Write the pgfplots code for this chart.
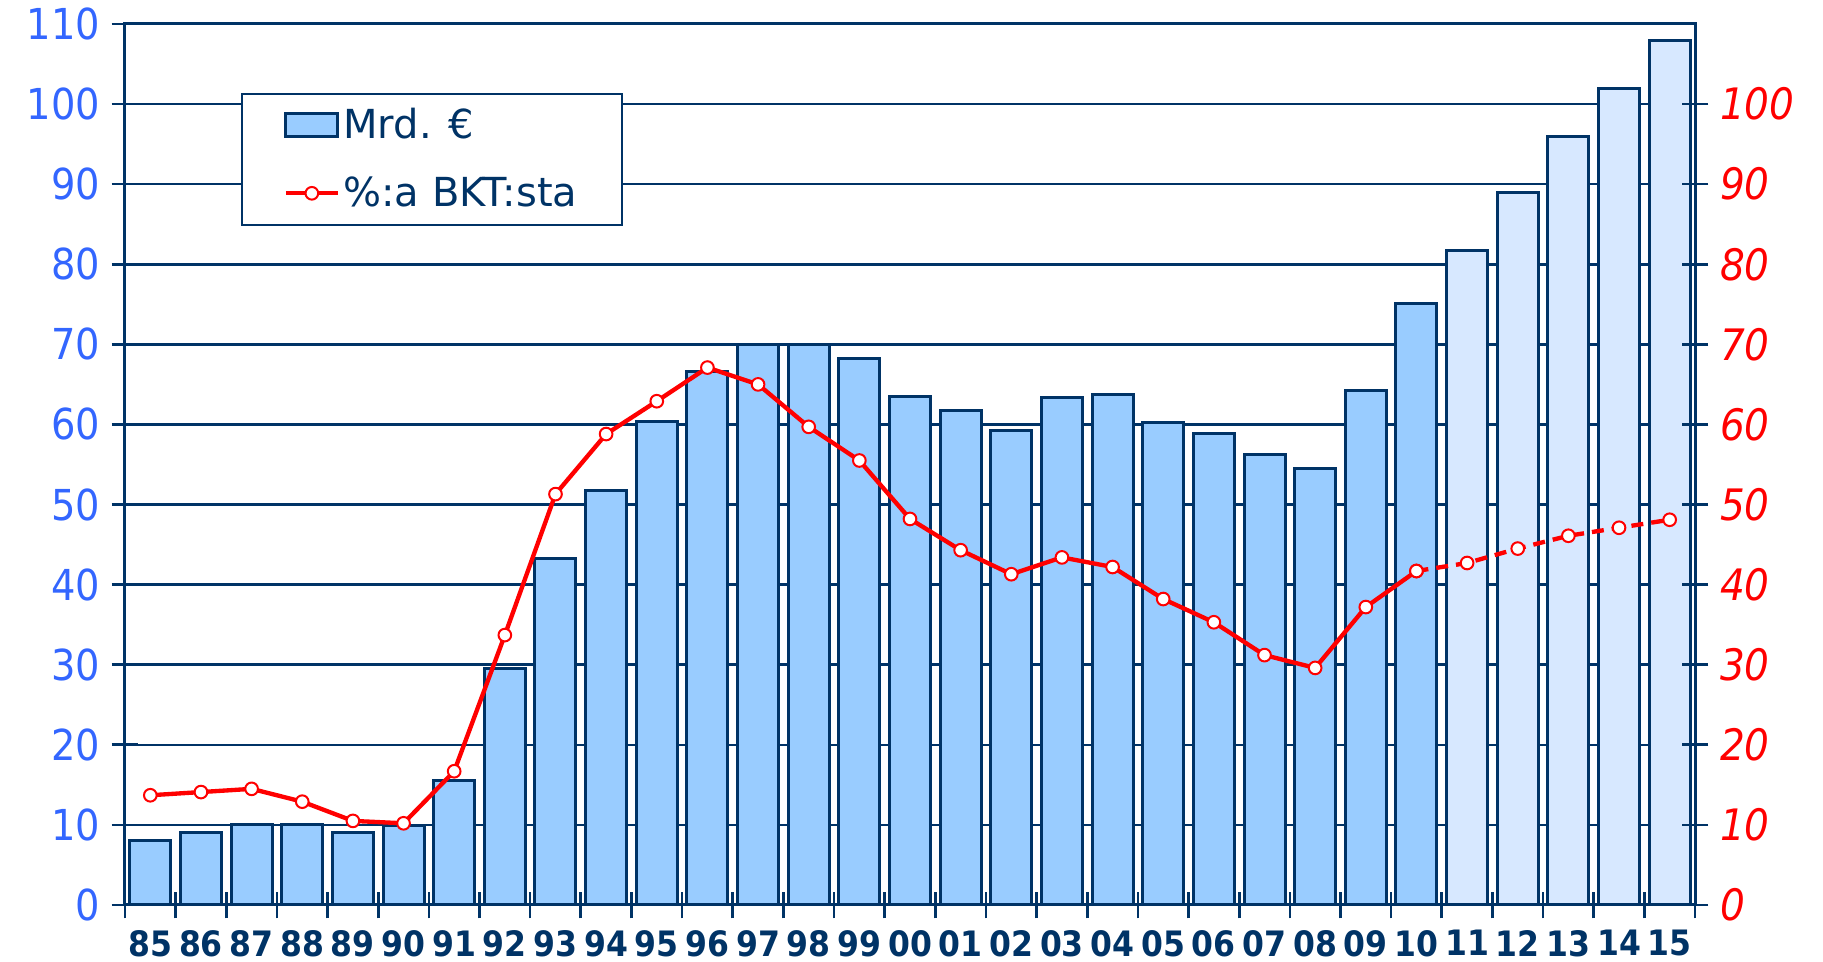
\documentclass[border=0pt]{standalone}
\usepackage{fontspec}
\setmainfont{DejaVu Sans}
\newfontfamily\condfont{DejaVu Sans Condensed}
\usepackage{pgfplots}
\pgfplotsset{compat=1.18}
\definecolor{navy}{HTML}{003366}
\definecolor{lblue}{HTML}{3366FF}
\definecolor{barblue}{HTML}{99CCFF}
\definecolor{barlight}{HTML}{D7E8FF}
\definecolor{lred}{HTML}{FF0000}
\pgfplotsset{
  barleg/.style={legend image code/.code={\draw[##1] (0pt,-3.4pt) rectangle (15.6pt,3.4pt);}},
  lineleg/.style={legend image code/.code={\draw[##1, mark repeat=2, mark phase=2] plot coordinates {(0pt,0pt) (7.8pt,0pt) (15.6pt,0pt)};}},
}
\begin{document}
\begin{tikzpicture}
\begin{axis}[
  name=ax, at={(0,0)}, anchor=south west,
  scale only axis, width=471pt, height=264.3pt,
  xmin=-0.5, xmax=30.5, ymin=0, ymax=110,
  axis line style={navy, line width=0.9pt},
  xtick={-0.5,0.5,...,30.5},
  x tick label as interval,
  xticklabels={85,86,87,88,89,90,91,92,93,94,95,96,97,98,99,00,01,02,03,04,05,06,07,08,09,10,11,12,13,14,15},
  xticklabel style={font=\condfont\bfseries\fontsize{10.5}{12}\selectfont, text=navy},
  ytick={0,10,...,110},
  yticklabels={0,10,20,30,40,50,60,70,80,90,100,110},
  yticklabel style={font=\condfont\fontsize{12.8}{14}\selectfont, text=lblue},
  xtick pos=bottom, ytick pos=left,
  tick align=center, major tick length=8pt,
  tick style={navy, line width=0.8pt},
  ymajorgrids, grid style={navy, line width=0.75pt},
  legend style={at={(0.0739,0.9217)}, anchor=north west, draw=navy, line width=0.6pt, fill=white,
    inner xsep=12.5pt, inner ysep=3pt, row sep=7.6pt,
    font=\fontsize{12}{14}\selectfont, text=navy,
    nodes={inner sep=1pt, text height=9.4pt, text depth=1.4pt}},
  legend cell align=left,
]
\addplot[ybar, bar width=0.81, bar shift=0pt, fill=barblue, draw=navy, line width=0.9pt, barleg]
  coordinates {(0,8.0) (1,9.0) (2,10.0) (3,10.0) (4,9.0) (5,9.9) (6,15.6) (7,29.5) (8,43.2) (9,51.7)
  (10,60.4) (11,66.6) (12,70.0) (13,70.0) (14,68.2) (15,63.5) (16,61.8) (17,59.3) (18,63.4) (19,63.8)
  (20,60.2) (21,58.9) (22,56.2) (23,54.5) (24,64.2) (25,75.1)};
\addlegendentry{Mrd. €}
\addplot[ybar, bar width=0.81, bar shift=0pt, fill=barlight, draw=navy, line width=0.9pt, forget plot]
  coordinates {(26,81.7) (27,88.9) (28,95.9) (29,101.9) (30,108.0)};
\addplot[lred, line width=1.3pt, mark=*,
  mark options={solid, fill=white, draw=lred, line width=0.6pt}, mark size=1.9pt, lineleg]
  coordinates {(0,13.7) (1,14.1) (2,14.5) (3,12.9) (4,10.5) (5,10.2) (6,16.7) (7,33.7) (8,51.3) (9,58.8)
  (10,62.9) (11,67.1) (12,65.0) (13,59.7) (14,55.5) (15,48.2) (16,44.3) (17,41.3) (18,43.4) (19,42.2)
  (20,38.2) (21,35.3) (22,31.2) (23,29.6) (24,37.2) (25,41.7)};
\addlegendentry{\%:a BKT:sta}
\addplot[lred, line width=1.3pt, dash pattern=on 3.6pt off 2.4pt, mark=*,
  mark options={solid, fill=white, draw=lred, line width=0.6pt}, mark size=1.9pt, forget plot]
  coordinates {(25,41.7) (26,42.7) (27,44.5) (28,46.1) (29,47.1) (30,48.1)};
\end{axis}
\begin{axis}[
  at={(0,0)}, anchor=south west,
  scale only axis, width=471pt, height=264.3pt,
  xmin=-0.5, xmax=30.5, ymin=0, ymax=110,
  axis x line=none, axis y line*=right,
  axis line style={navy, line width=0.9pt},
  ytick={0,10,...,100},
  yticklabels={0,10,20,30,40,50,60,70,80,90,100},
  yticklabel style={font=\condfont\itshape\fontsize{13}{15}\selectfont, text=lred},
  tick align=center, major tick length=8pt,
  tick style={navy, line width=0.8pt},
]
\addplot[draw=none] coordinates {(0,0)};
\end{axis}
\pgfresetboundingbox
\path (-37.5pt,-17.1pt) rectangle (509.4pt,271.5pt);
\end{tikzpicture}
\end{document}
